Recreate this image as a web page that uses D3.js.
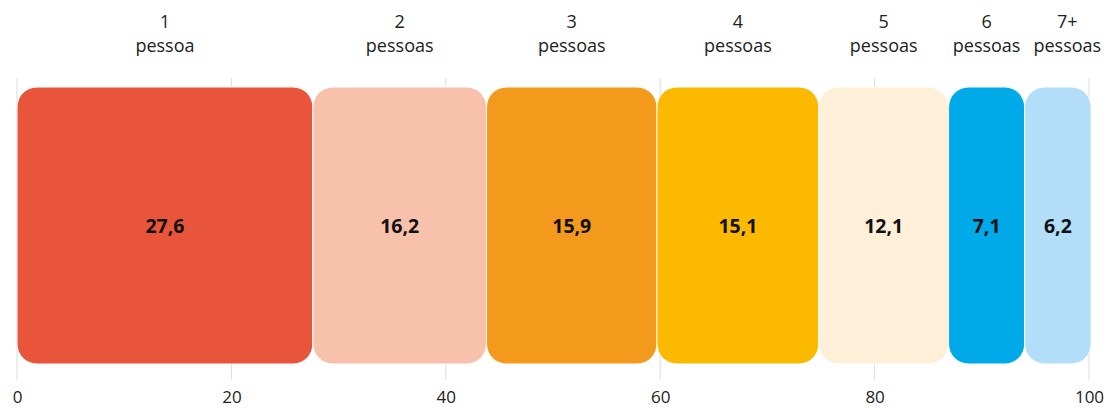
<!DOCTYPE html>
<html><head><meta charset="utf-8">
<script src="https://cdn.jsdelivr.net/npm/d3@7"></script>
<style>body{margin:0;background:#fff}svg{display:block}text{font-family:"Open Sans",sans-serif}</style>
</head><body><svg id="c" width="1109" height="408"></svg>
<script>
const categories = ["1|pessoa","2|pessoas","3|pessoas","4|pessoas","5|pessoas","6|pessoas","7+|pessoas"];
const values = [27.6,16.2,15.9,15.1,12.1,7.1,6.2];
const valueLabels = ["27,6","16,2","15,9","15,1","12,1","7,1","6,2"];
const colors = ["#E9553A","#F8C1AB","#F3991C","#FBBA00","#FEF0D8","#00A9E7","#B2DEF9"];
const ticks = [0,20,40,60,80,100];

const svg = d3.select("#c");
const x = d3.scaleLinear().domain([0,100]).range([17,1089]);
const y0 = 87, y1 = 364, gTop = 78, gBot = 380;

svg.append("g").selectAll("line").data(ticks).join("line")
  .attr("x1",d=>x(d)).attr("x2",d=>x(d)).attr("y1",gTop).attr("y2",gBot)
  .attr("stroke","#dcdcdc").attr("stroke-width",1);

let acc = 0;
const segs = values.map((v,i)=>{const s={start:acc,end:acc+v,v,i};acc+=v;return s;});

svg.append("g").selectAll("rect").data(segs).join("rect")
  .attr("x",d=>x(d.start)).attr("width",d=>x(d.end)-x(d.start))
  .attr("y",y0).attr("height",y1-y0).attr("rx",20).attr("ry",20)
  .attr("fill",d=>colors[d.i]).attr("stroke","#fff").attr("stroke-width",1);

svg.append("g").selectAll("text").data(segs).join("text")
  .attr("x",d=>(x(d.start)+x(d.end))/2).attr("y",(y0+y1)/2+7)
  .attr("text-anchor","middle").attr("font-size",19.5).attr("font-weight",700)
  .attr("fill","#111").text(d=>valueLabels[d.i]);

const catLabels = svg.append("g").selectAll("text").data(segs).join("text")
  .attr("text-anchor","middle").attr("font-size",18).attr("fill","#222");
let prevRight = -Infinity;
catLabels.each(function(d){
  const parts = categories[d.i].split("|");
  let cx=(x(d.start)+x(d.end))/2;
  const t = d3.select(this);
  const a = t.append("tspan").attr("y",28).text(parts[0]);
  const b = t.append("tspan").attr("y",52).text(parts[1]);
  const w = this.getBBox().width;
  if (cx - w/2 < prevRight + 13) cx = prevRight + 13 + w/2;
  prevRight = cx + w/2;
  a.attr("x",cx); b.attr("x",cx);
});

const axis = d3.axisBottom(x).tickValues(ticks).tickSize(0).tickPadding(0);
const ag = svg.append("g").attr("transform",`translate(0,${gBot})`).call(axis);
ag.select(".domain").remove();
ag.selectAll("text").attr("font-size",17).attr("fill","#222").attr("font-family","Open Sans, sans-serif").attr("dy",null).attr("y",23);
</script></body></html>
